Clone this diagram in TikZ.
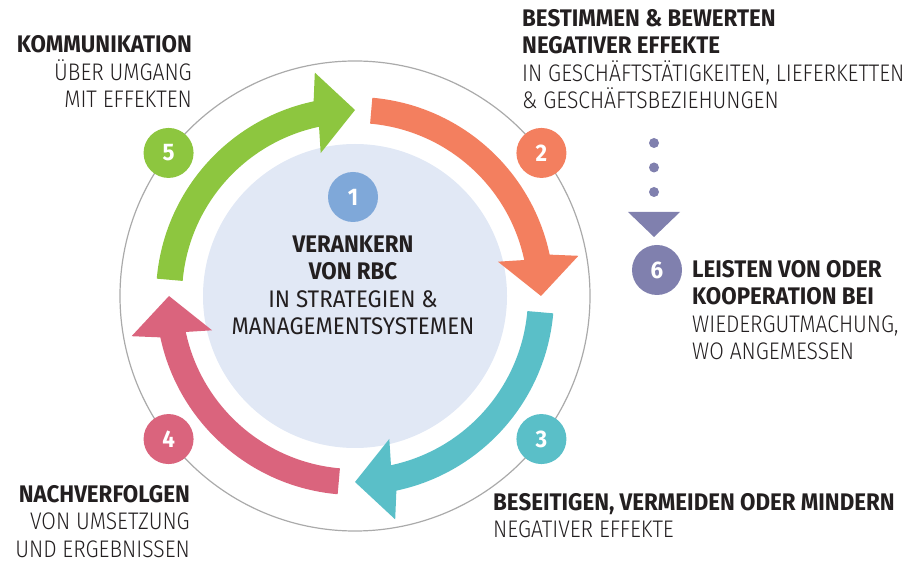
\documentclass[tikz,border=0pt]{standalone}
\usepackage{fontspec}
\setmainfont{Fira Sans}[FakeStretch=0.93]
\newfontfamily\lightfont{Fira Sans Light}[FakeStretch=0.88]
\usetikzlibrary{positioning}

\definecolor{stepgreen}{HTML}{8DC63F}
\definecolor{steporange}{HTML}{F37F5F}
\definecolor{stepteal}{HTML}{5ABFC8}
\definecolor{steppink}{HTML}{DA647D}
\definecolor{stepblue}{HTML}{7FA8D9}
\definecolor{steppurple}{HTML}{8080AE}
\definecolor{corefill}{HTML}{E1E8F5}
\definecolor{ringgray}{HTML}{AAAAAA}
\definecolor{inkdark}{HTML}{231F20}
\definecolor{inklight}{HTML}{3A3A3A}

% one curved arrow of the cycle: tip angle, colour
\newcommand{\cyclearrow}[2]{%
  \fill[#2] (#1+85:199pt) arc[start angle=#1+85, end angle=#1+12, radius=199pt]
    -- (#1+10.2:227pt) -- (#1:186pt) -- (#1+13.5:147pt) -- (#1+12:173pt)
    arc[start angle=#1+12, end angle=#1+85, radius=173pt] -- cycle;}

\begin{document}
\begin{tikzpicture}[x=1pt,y=1pt,
  num/.style={circle,fill=#1,inner sep=0pt,minimum size=50pt,text=white,
    font=\bfseries\fontsize{24}{24}\selectfont},
  txt/.style={inner sep=0pt,text=inkdark,font=\fontsize{24}{27.5}\selectfont},
  dotrow/.style={steppurple,line width=10pt,line cap=round,dash pattern=on 0pt off 24.5pt}]
	\useasboundingbox (0,0) rectangle (907,562);
	
	\begin{scope}[shift={(355,266)}]
	\node[circle,draw=ringgray,line width=1.2pt,inner sep=0pt,minimum size=470pt] (ring) at (0,0) {};
	\node[circle,fill=corefill,inner sep=0pt,minimum size=304pt] (core) at (0,0) {};
	
	\cyclearrow{90}{stepgreen}
	\cyclearrow{0}{steporange}
	\cyclearrow{-90}{stepteal}
	\cyclearrow{180}{steppink}
	
	\node[num=stepgreen] (n5) at (142.5:235pt) {5};
	\node[num=steporange] (n2) at (37.5:235pt) {2};
	\node[num=stepteal] (n3) at (-37.5:235pt) {3};
	\node[num=steppink] (n4) at (-142.5:235pt) {4};
	\node[num=stepblue] (n1) at (-2,99) {1};
	\end{scope}
	
	% blocks are placed by the baseline of their last line
	\node[txt,anchor=base,align=center] (t1) at (353,227)
	{\textbf{VERANKERN}\\ \textbf{VON RBC}\\ IN STRATEGIEN \&\\ MANAGEMENTSYSTEMEN};
	
	\node[txt,anchor=base east,align=right] (t5) at (192,454)
	{\textbf{KOMMUNIKATION}\\ {\lightfont ÜBER UMGANG}\\ {\lightfont MIT EFFEKTEN}};
	
	\node[txt,anchor=base west,align=left] (t2) at (522,453)
	{\textbf{BESTIMMEN \& BEWERTEN}\\ \textbf{NEGATIVER EFFEKTE}\\
	 {\lightfont IN GESCHÄFTSTÄTIGKEITEN, LIEFERKETTEN}\\ {\lightfont \& GESCHÄFTSBEZIEHUNGEN}};
	
	\node[txt,anchor=base west,align=left] (t3) at (493,24)
	{\textbf{BESEITIGEN, VERMEIDEN ODER MINDERN}\\ {\lightfont NEGATIVER EFFEKTE}};
	
	\node[txt,anchor=base east,align=right] (t4) at (190,5)
	{\textbf{NACHVERFOLGEN}\\ {\lightfont VON UMSETZUNG}\\ {\lightfont UND ERGEBNISSEN}};
	
	% remediation step
	\node[num=steppurple] (n6) at (657,292) {6};
	\node[txt,anchor=base west,align=left] (t6) at (692,202)
	{\textbf{LEISTEN VON ODER}\\ \textbf{KOOPERATION BEI}\\
	 {\lightfont WIEDERGUTMACHUNG,}\\ {\lightfont WO ANGEMESSEN}};
	
	\coordinate (dtop) at (654,419);
	\coordinate (dbot) at (654,368);
	\coordinate (tri) at (654,350);
	\draw[dotrow] (dtop) -- (dbot);
	\fill[steppurple] (tri) ++(-26,0) -- ++(52,0) -- ++(-26,-25) -- cycle;
	
\end{tikzpicture}
\end{document}
